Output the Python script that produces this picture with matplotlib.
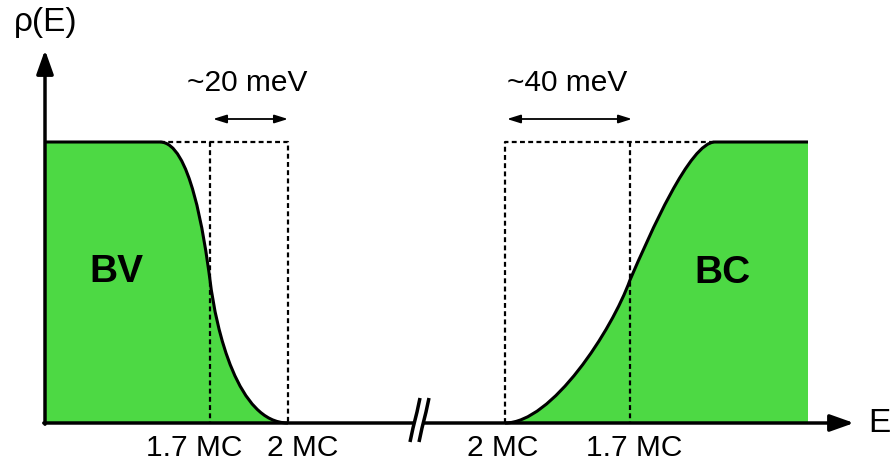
import matplotlib.pyplot as plt
from matplotlib.path import Path
from matplotlib.patches import PathPatch

plt.rcParams['font.family'] = ['Liberation Sans', 'DejaVu Sans']

# schematic positions (picture units, y grows downward)
x0 = 45          # origin of axes
y_base = 423     # E axis
y_top = 142      # plateau level
y_mid = 280      # crossing at 1.7 MC
x_end = 808      # right end of BC band

# valence band: plateau end, 1.7 MC, 2 MC
bv_x = [160, 210, 288]
# conduction band: 2 MC, 1.7 MC, plateau start
bc_x = [505, 630, 715]

# bezier control points for the two edges
bv_ctrl = [(bv_x[0], y_top), (190, y_top), (204, 235), (bv_x[1], y_mid),
           (216, 330), (238, y_base), (bv_x[2], y_base)]
bc_ctrl = [(bc_x[0], y_base), (552, y_base), (612, 330), (bc_x[1], y_mid),
           (650, 234), (690, y_top), (bc_x[2], y_top)]

tick_labels = ['1.7 MC', '2 MC', '2 MC', '1.7 MC']
tick_pos = [194, 303, 503, 634]
green = '#4dd944'

fig = plt.figure(figsize=(8.93, 4.70), dpi=100)
ax = fig.add_axes([0, 0, 1, 1])
ax.set_xlim(0, 893)
ax.set_ylim(470, 0)
ax.axis('off')

C4 = Path.CURVE4
# BV fill + outline
verts = [(x0, y_base), (x0, y_top)] + bv_ctrl + [(x0, y_base)]
codes = [Path.MOVETO, Path.LINETO, Path.LINETO] + [C4] * 6 + [Path.CLOSEPOLY]
ax.add_patch(PathPatch(Path(verts, codes), fc=green, ec='none', zorder=1))
verts = [(x0, y_top)] + bv_ctrl
codes = [Path.MOVETO, Path.LINETO] + [C4] * 6
ax.add_patch(PathPatch(Path(verts, codes), fc='none', ec='k', lw=2.2, zorder=3))

# BC fill + outline
verts = bc_ctrl + [(x_end, y_top), (x_end, y_base), (bc_x[0], y_base)]
codes = [Path.MOVETO] + [C4] * 6 + [Path.LINETO, Path.LINETO, Path.CLOSEPOLY]
ax.add_patch(PathPatch(Path(verts, codes), fc=green, ec='none', zorder=1))
verts = bc_ctrl + [(x_end, y_top)]
codes = [Path.MOVETO] + [C4] * 6 + [Path.LINETO]
ax.add_patch(PathPatch(Path(verts, codes), fc='none', ec='k', lw=2.2, zorder=3))

# dashed boxes
dash = dict(color='k', lw=1.6, ls=(0, (2.2, 1.5)), zorder=2)
ax.plot([bv_x[0], bv_x[2], bv_x[2]], [y_top, y_top, y_base], **dash)
ax.plot([bv_x[1], bv_x[1]], [y_top, y_base], **dash)
ax.plot([bc_x[0], bc_x[0], bc_x[2]], [y_base, y_top, y_top], **dash)
ax.plot([bc_x[1], bc_x[1]], [y_top, y_base], **dash)

# axes with arrows
head = '-|>,head_length=0.9,head_width=0.32'
ax.annotate('', xy=(x0, 50), xytext=(x0, y_base + 1.2),
            arrowprops=dict(arrowstyle=head, lw=2.5, color='k', mutation_scale=16,
                            shrinkA=0, shrinkB=0), zorder=4)
ax.annotate('', xy=(854, y_base), xytext=(x0 - 1.2, y_base),
            arrowprops=dict(arrowstyle=head, lw=2.5, color='k', mutation_scale=16,
                            shrinkA=0, shrinkB=0), zorder=4)

# axis break
ax.fill([411, 419, 429, 421], [442, 442, 398, 398], color='white', zorder=5)
for dx in [0, 9]:
    ax.plot([410 + dx, 413 + dx, 417 + dx, 420 + dx], [442, 428, 412, 398],
            color='k', lw=2.5, zorder=6, solid_capstyle='butt')

# energy width arrows
dbl = dict(arrowstyle='<|-|>,head_length=0.8,head_width=0.25', lw=1.3, color='k',
           mutation_scale=10, shrinkA=0, shrinkB=0)
ax.annotate('', xy=(213, 119), xytext=(288, 119), arrowprops=dbl)
ax.annotate('', xy=(507, 119), xytext=(632, 119), arrowprops=dbl)

# text
ax.text(46, 22, 'ρ(E)', fontsize=24, ha='center', va='center')
ax.text(879, 424, 'E', fontsize=24, ha='center', va='center')
ax.text(247, 83, '~20 meV', fontsize=21.5, ha='center', va='center')
ax.text(567, 83, '~40 meV', fontsize=21.5, ha='center', va='center')
ax.text(116, 272, 'BV', fontsize=28, fontweight='bold', ha='center', va='center')
ax.text(722, 273, 'BC', fontsize=28, fontweight='bold', ha='center', va='center')
for lab, xp in zip(tick_labels, tick_pos):
    ax.text(xp, 448, lab, fontsize=21.5, ha='center', va='center')

fig.savefig('out.png', dpi=100)
